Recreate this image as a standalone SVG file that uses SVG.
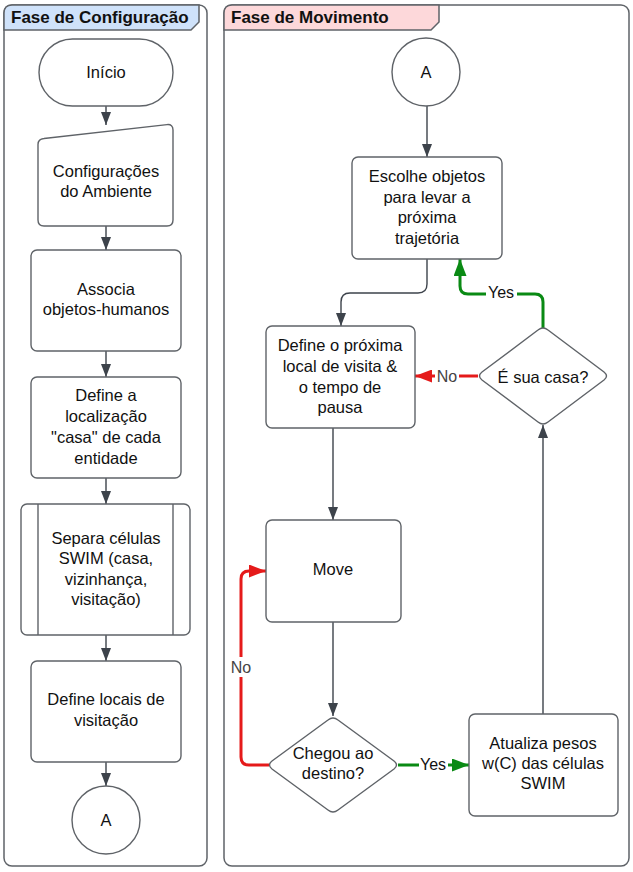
<svg xmlns="http://www.w3.org/2000/svg" width="633" height="872" viewBox="0 0 633 872">
<defs>
<style>
.box{fill:#fff;stroke:#5f6368;stroke-width:1.4}
.cont{fill:#fff;stroke:#5f6368;stroke-width:1.5}
.t{font-family:"Liberation Sans",Arial,sans-serif;font-size:16.5px;fill:#111;text-anchor:middle}
.title{font-family:"Liberation Sans",Arial,sans-serif;font-size:17px;font-weight:bold;fill:#111}
.lbl{font-family:"Liberation Sans",Arial,sans-serif;font-size:16px;text-anchor:middle}
.dk{fill:none;stroke:#3d434b;stroke-width:1.4}
.gr{fill:none;stroke:#0a8a14;stroke-width:3}
.rd{fill:none;stroke:#e51a1a;stroke-width:3}
</style>
<marker id="ad" markerUnits="userSpaceOnUse" markerWidth="14" markerHeight="10" refX="13" refY="5" orient="auto"><path d="M0,0 L13,5 L0,10 Z" fill="#3d434b"/></marker>
<marker id="ag" markerUnits="userSpaceOnUse" markerWidth="18" markerHeight="13" refX="17" refY="6.5" orient="auto"><path d="M0,0 L17,6.5 L0,13 Z" fill="#0a8a14"/></marker>
<marker id="ar" markerUnits="userSpaceOnUse" markerWidth="18" markerHeight="13" refX="17" refY="6.5" orient="auto"><path d="M0,0 L17,6.5 L0,13 Z" fill="#e51a1a"/></marker>
</defs>
<rect width="633" height="872" fill="#fff"/>

<g id="fase-configuracao">
<rect class="cont" x="4" y="5" width="203" height="861" rx="8"/>
<path d="M4,30 V13 Q4,5 12,5 H199 V22 L191,30 Z" fill="#cfe2fa" stroke="#5f6368" stroke-width="1.5"/>
<text class="title" x="11" y="23">Fase de Configuração</text>
</g>
<g id="fase-movimento">
<rect class="cont" x="224" y="5" width="405" height="861" rx="8"/>
<path d="M224,30 V13 Q224,5 232,5 H439 V22 L431,30 Z" fill="#fdd8da" stroke="#5f6368" stroke-width="1.5"/>
<text class="title" x="231" y="23">Fase de Movimento</text>
</g>

<g id="connectors">
<path class="dk" d="M106,106 V125" marker-end="url(#ad)"/>
<path class="dk" d="M106,226 V250" marker-end="url(#ad)"/>
<path class="dk" d="M106,351 V377" marker-end="url(#ad)"/>
<path class="dk" d="M106,478 V504" marker-end="url(#ad)"/>
<path class="dk" d="M106,635 V661" marker-end="url(#ad)"/>
<path class="dk" d="M106,762 V786" marker-end="url(#ad)"/>
<path class="dk" d="M427,106 V157" marker-end="url(#ad)"/>
<path class="dk" d="M427,259 V284 Q427,293 418,293 H350 Q341,293 341,302 V326" marker-end="url(#ad)"/>
<path class="dk" d="M333,428 V520" marker-end="url(#ad)"/>
<path class="dk" d="M333,622 V716" marker-end="url(#ad)"/>
<path class="dk" d="M543,714 V425" marker-end="url(#ad)"/>
<path class="gr" d="M543,328 V302 Q543,294 535,294 H468 Q460,294 460,286 V259" marker-end="url(#ag)"/>
<path class="rd" d="M478,376 H415" marker-end="url(#ar)"/>
<path class="rd" d="M269,765 H249 Q241,765 241,757 V579 Q241,571 249,571 H266" marker-end="url(#ar)"/>
<path class="gr" d="M398,765 H469" marker-end="url(#ag)"/>
<rect x="486" y="283" width="31" height="19" fill="#fff"/>
<text class="lbl" x="501" y="298" fill="#111">Yes</text>
<rect x="435" y="367" width="24" height="18" fill="#fff"/>
<text class="lbl" x="447" y="382" fill="#444">No</text>
<rect x="229" y="657" width="24" height="20" fill="#fff"/>
<text class="lbl" x="241" y="673" fill="#444">No</text>
<rect x="419" y="755" width="29" height="19" fill="#fff"/>
<text class="lbl" x="433" y="770" fill="#111">Yes</text>
</g>

<g id="inicio"><rect class="box" x="39" y="39" width="134" height="67" rx="33.5"/><text class="t" x="106" y="78">Início</text></g>
<g id="configuracoes"><path class="box" d="M44,138.5 L167,124.6 Q173,124 173,130 V220 Q173,226 167,226 H44 Q38,226 38,220 V144.5 Q38,139 44,138.5 Z"/><text class="t" x="106" y="177">Configurações</text><text class="t" x="106" y="197">do Ambiente</text></g>
<g id="associa"><rect class="box" x="31" y="250" width="150" height="101" rx="6"/><text class="t" x="106" y="295">Associa</text><text class="t" x="106" y="315">objetos-humanos</text></g>
<g id="define-localizacao"><rect class="box" x="31" y="377" width="150" height="101" rx="6"/><text class="t" x="106" y="401">Define a</text><text class="t" x="106" y="422">localização</text><text class="t" x="106" y="443">"casa" de cada</text><text class="t" x="106" y="464">entidade</text></g>
<g id="separa"><rect class="box" x="21" y="504" width="169" height="131" rx="6"/><path class="box" d="M38,504 V635 M173,504 V635"/><text class="t" x="106" y="544">Separa células</text><text class="t" x="106" y="564">SWIM (casa,</text><text class="t" x="106" y="585">vizinhança,</text><text class="t" x="106" y="605">visitação)</text></g>
<g id="define-locais"><rect class="box" x="31" y="661" width="150" height="101" rx="6"/><text class="t" x="106" y="705">Define locais de</text><text class="t" x="106" y="726">visitação</text></g>
<g id="a-left"><circle class="box" cx="106" cy="820" r="34"/><text class="t" x="106" y="826">A</text></g>

<g id="a-right"><circle class="box" cx="426" cy="72" r="34"/><text class="t" x="426" y="78">A</text></g>
<g id="escolhe"><rect class="box" x="352" y="157" width="150" height="102" rx="6"/><text class="t" x="427" y="182">Escolhe objetos</text><text class="t" x="427" y="203">para levar a</text><text class="t" x="427" y="223">próxima</text><text class="t" x="427" y="244">trajetória</text></g>
<g id="define-proxima"><rect class="box" x="266" y="326" width="149" height="102" rx="6"/><text class="t" x="340" y="351">Define o próxima</text><text class="t" x="340" y="372">local de visita &amp;</text><text class="t" x="340" y="393">o tempo de</text><text class="t" x="340" y="413">pausa</text></g>
<g id="sua-casa"><path class="box" d="M538,330 Q543,326 548,330 L604,372 Q609,376 604,380 L548,422 Q543,426 538,422 L482,380 Q477,376 482,372 Z"/><text class="t" x="543" y="383">É sua casa?</text></g>
<g id="move"><rect class="box" x="266" y="520" width="135" height="102" rx="6"/><text class="t" x="333" y="575">Move</text></g>
<g id="chegou"><path class="box" d="M328,720 Q333,716 338,720 L394,761 Q399,765 394,769 L338,810 Q333,814 328,810 L272,769 Q267,765 272,761 Z"/><text class="t" x="333" y="759">Chegou ao</text><text class="t" x="333" y="779">destino?</text></g>
<g id="atualiza"><rect class="box" x="469" y="714" width="149" height="102" rx="6"/><text class="t" x="543" y="749">Atualiza pesos</text><text class="t" x="543" y="769">w(C) das células</text><text class="t" x="543" y="789">SWIM</text></g>
</svg>
